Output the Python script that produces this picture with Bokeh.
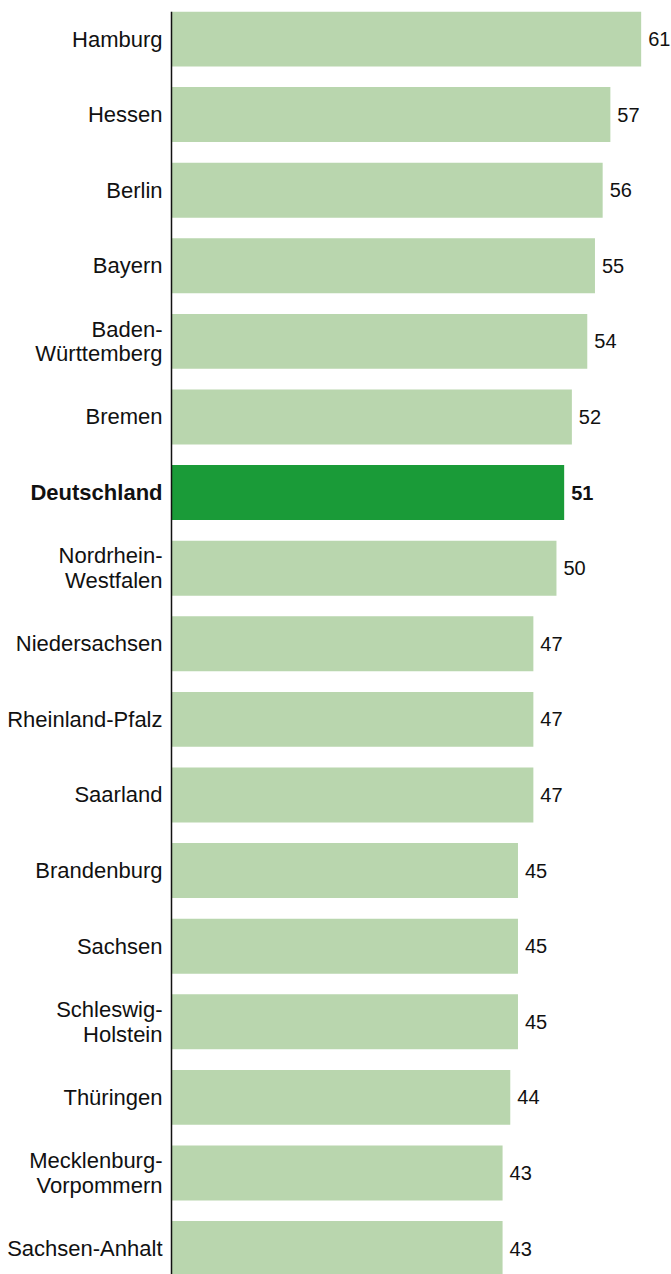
from bokeh.plotting import figure
from bokeh.models import ColumnDataSource, Range1d, Span
from bokeh.core.properties import value
from bokeh.embed import file_html
from bokeh.resources import INLINE

states = ["Hamburg", "Hessen", "Berlin", "Bayern", "Baden-\nWürttemberg", "Bremen",
          "Deutschland", "Nordrhein-\nWestfalen", "Niedersachsen", "Rheinland-Pfalz",
          "Saarland", "Brandenburg", "Sachsen", "Schleswig-\nHolstein", "Thüringen",
          "Mecklenburg-\nVorpommern", "Sachsen-Anhalt"]
values = [61, 57, 56, 55, 54, 52, 51, 50, 47, 47, 47, 45, 45, 45, 44, 43, 43]
highlight = "Deutschland"

LIGHT = "#b9d6ae"
DARK = "#1a9b38"
FONT = value("Liberation Sans")

idx = list(range(len(states)))
is_hl = [s == highlight for s in states]
colors = [DARK if h else LIGHT for h in is_hl]


def subset(flag):
    return ColumnDataSource(dict(
        y=[i for i, h in zip(idx, is_hl) if h == flag],
        v=[v for v, h in zip(values, is_hl) if h == flag],
        name=[s for s, h in zip(states, is_hl) if h == flag],
        vt=[str(v) for v, h in zip(values, is_hl) if h == flag],
    ))


src_norm = subset(False)
src_hl = subset(True)
src_bars = ColumnDataSource(dict(y=idx, v=values, c=colors))

p = figure(width=671, height=1274, output_backend="svg", toolbar_location=None,
           x_range=Range1d(-22.21, 64.94), y_range=Range1d(16.343, -0.3638),
           min_border_left=0, min_border_right=0, min_border_top=11, min_border_bottom=0)
p.outline_line_color = None
p.xaxis.visible = False
p.yaxis.visible = False
p.xgrid.visible = False
p.ygrid.visible = False
p.background_fill_color = "white"
p.border_fill_color = "white"

p.hbar(y="y", left=0, right="v", height=0.727, fill_color="c", line_color=None, source=src_bars)

p.add_layout(Span(location=0, dimension="height", line_color="#111111", line_width=1.5))

for src, style in ((src_norm, "normal"), (src_hl, "bold")):
    p.text(x=0, y="y", text="name", source=src, x_offset=-9, y_offset=0,
           text_align="right", text_baseline="middle", text_font=FONT,
           text_font_size="22px", text_font_style=style, text_color="#111111",
           text_line_height=0.99)
    p.text(x="v", y="y", text="vt", source=src, x_offset=7, y_offset=0,
           text_align="left", text_baseline="middle", text_font=FONT,
           text_font_size="20px", text_font_style=style, text_color="#111111")

open("out.html", "w").write(file_html(p, INLINE))
